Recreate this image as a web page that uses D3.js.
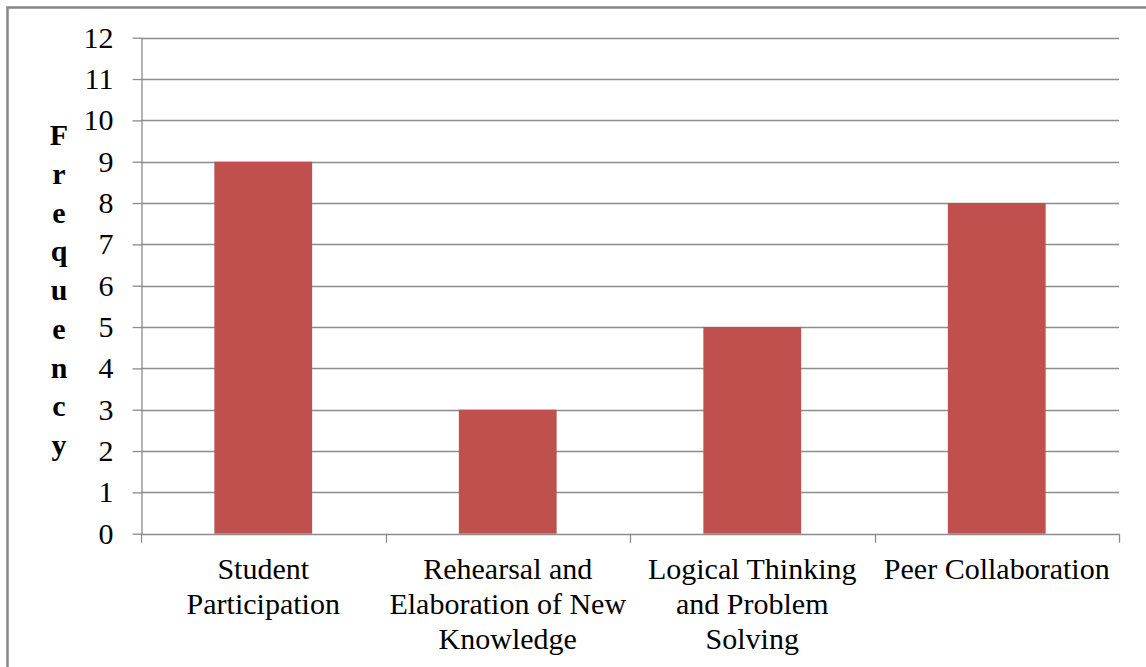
<!DOCTYPE html>
<html>
<head>
<meta charset="utf-8">
<script src="https://cdn.jsdelivr.net/npm/d3@7"></script>
<style>
  body { margin: 0; background: #fff; }
  svg { display: block; }
</style>
</head>
<body>
<svg id="chart" width="1146" height="667"></svg>
<script>
    // data
    var categories = ["Student Participation", "Rehearsal and Elaboration of New Knowledge",
        "Logical Thinking and Problem Solving", "Peer Collaboration"];
    var labelLines = [["Student", "Participation"], ["Rehearsal and", "Elaboration of New", "Knowledge"],
        ["Logical Thinking", "and Problem", "Solving"], ["Peer Collaboration"]];
    var frequency = [9, 3, 5, 8];
    var yTicks = [0, 1, 2, 3, 4, 5, 6, 7, 8, 9, 10, 11, 12];
    var yTitle = "Frequency";

    var font = "'Liberation Serif', 'Times New Roman', serif";
    var svg = d3.select("#chart");

    // outer frame
    svg.append("rect")
        .attr("x", 7.5).attr("y", 7.5)
        .attr("width", 1200).attr("height", 700)
        .attr("fill", "none")
        .attr("stroke", "#868686")
        .attr("stroke-width", 2.5);

    var plotLeft = 141, plotRight = 1119, plotTop = 37.7, plotBottom = 533.7;

    var x = d3.scaleBand()
        .domain(categories)
        .range([plotLeft, plotRight])
        .paddingInner(0.6)
        .paddingOuter(0.3);

    var y = d3.scaleLinear()
        .domain([0, 12])
        .range([plotBottom, plotTop]);

    // gridlines
    svg.append("g")
        .selectAll("line")
        .data(yTicks.filter(function (d) { return d > 0; }))
        .enter()
        .append("line")
        .attr("x1", plotLeft).attr("x2", plotRight)
        .attr("y1", function (d) { return Math.round(y(d)) + 0.5; })
        .attr("y2", function (d) { return Math.round(y(d)) + 0.5; })
        .attr("stroke", "#8c8c8c")
        .attr("stroke-width", 1.3);

    // bars
    svg.append("g")
        .selectAll("rect")
        .data(frequency)
        .enter()
        .append("rect")
        .attr("x", function (d, i) { return x(categories[i]); })
        .attr("y", function (d) { return y(d); })
        .attr("width", x.bandwidth())
        .attr("height", function (d) { return y(0) - y(d); })
        .attr("fill", "#C0504D");

    // y axis
    var yAxis = svg.append("g")
        .attr("transform", "translate(" + (plotLeft + 0.5) + ",0)")
        .call(d3.axisLeft(y).tickValues(yTicks).tickSize(9).tickPadding(19).tickSizeOuter(0));
    yAxis.select(".domain").attr("stroke", "#8c8c8c").attr("stroke-width", 1.3);
    yAxis.selectAll(".tick line").attr("stroke", "#8c8c8c").attr("stroke-width", 1.3);
    yAxis.selectAll(".tick text")
        .attr("font-family", font)
        .attr("font-size", "30px")
        .attr("fill", "#000");

    // x axis line and category dividers
    svg.append("line")
        .attr("x1", plotLeft).attr("x2", plotRight)
        .attr("y1", Math.round(plotBottom) + 0.5).attr("y2", Math.round(plotBottom) + 0.5)
        .attr("stroke", "#8c8c8c").attr("stroke-width", 1.3);
    var step = x.step();
    var dividers = d3.range(categories.length + 1).map(function (i) {
        return i < categories.length ? x(categories[i]) - x.paddingOuter() * step : plotRight;
    });
    svg.append("g")
        .selectAll("line")
        .data(dividers)
        .enter()
        .append("line")
        .attr("x1", function (d) { return Math.round(d) + 0.5; })
        .attr("x2", function (d) { return Math.round(d) + 0.5; })
        .attr("y1", plotBottom).attr("y2", plotBottom + 9)
        .attr("stroke", "#8c8c8c").attr("stroke-width", 1.3);

    // category labels
    var labels = svg.append("g")
        .selectAll("text")
        .data(categories)
        .enter()
        .append("text")
        .attr("text-anchor", "middle")
        .attr("font-family", font)
        .attr("font-size", "30px")
        .attr("fill", "#000");
    labels.each(function (d, i) {
        var cx = x(d) + x.bandwidth() / 2;
        d3.select(this).selectAll("tspan")
            .data(labelLines[i])
            .enter()
            .append("tspan")
            .attr("x", cx)
            .attr("y", function (t, j) { return 579 + j * 35; })
            .text(function (t) { return t; });
    });

    // vertical stacked y title
    svg.append("g")
        .selectAll("text")
        .data(yTitle.split(""))
        .enter()
        .append("text")
        .attr("x", 59)
        .attr("y", function (d, i) { return 145 + i * 38.75; })
        .attr("text-anchor", "middle")
        .attr("font-family", font)
        .attr("font-weight", "bold")
        .attr("font-size", "30px")
        .attr("fill", "#000")
        .text(function (d) { return d; });
</script>
</body>
</html>
